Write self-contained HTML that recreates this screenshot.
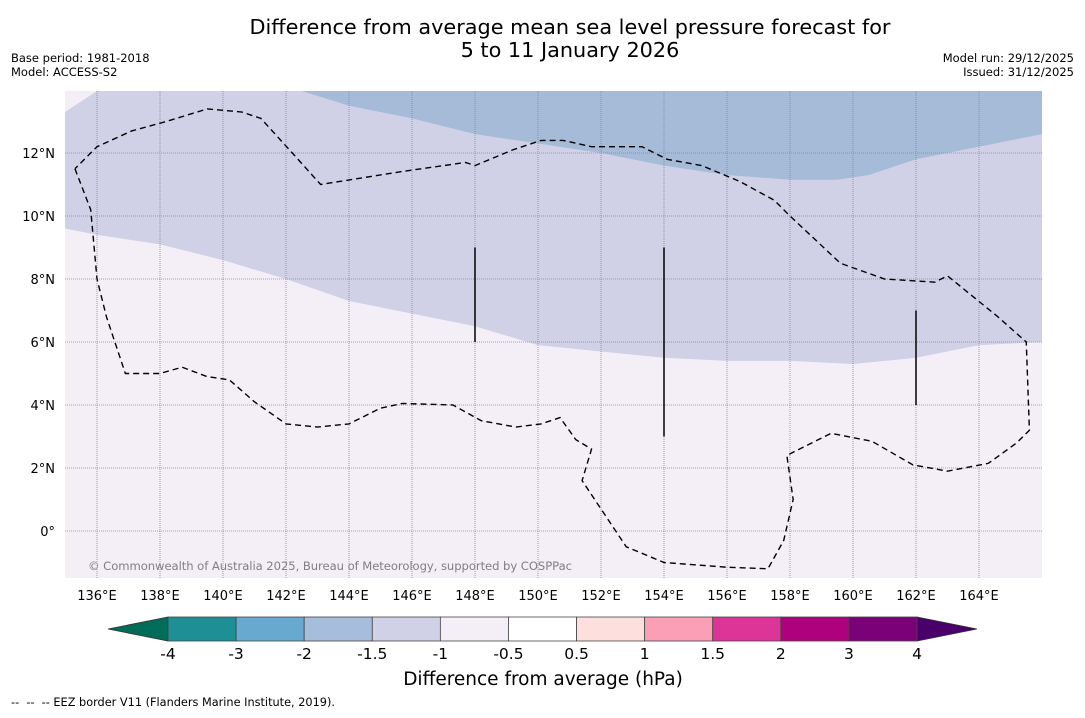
<!DOCTYPE html>
<html><head><meta charset="utf-8">
<style>
body{margin:0;background:#fff;font-family:"Liberation Sans","DejaVu Sans",sans-serif;}
svg text{font-family:"DejaVu Sans","Liberation Sans",sans-serif;}
</style></head>
<body>
<svg id="c" width="1085" height="713" xmlns="http://www.w3.org/2000/svg">
<rect width="1085" height="713" fill="#fff"/>
<text x="570" y="34" font-size="20.8" text-anchor="middle">Difference from average mean sea level pressure forecast for</text>
<text x="570" y="57" font-size="20.8" text-anchor="middle">5 to 11 January 2026</text>
<text x="11" y="62" font-size="11.5">Base period: 1981-2018</text>
<text x="11" y="76" font-size="11.5">Model: ACCESS-S2</text>
<text x="1074" y="62" font-size="11.5" text-anchor="end">Model run: 29/12/2025</text>
<text x="1074" y="76" font-size="11.5" text-anchor="end">Issued: 31/12/2025</text>
<g id="map"></g>
<g id="cbar"></g>
<text x="543" y="685" font-size="18.5" text-anchor="middle">Difference from average (hPa)</text>
<text x="11" y="706" font-size="11.3" xml:space="preserve" style="white-space:pre">--  --  -- EEZ border V11 (Flanders Marine Institute, 2019).</text>
</svg>
<script>
const lonTicks=[136,138,140,142,144,146,148,150,152,154,156,158,160,162,164];
const latTicks=[0,2,4,6,8,10,12];
const midLon=[135,136,138,140,142,144,146,148,150,152,154,156,158,160,162,164,166];
const midLat=[9.6,9.4,9.1,8.6,8.0,7.3,6.9,6.5,5.9,5.7,5.5,5.4,5.4,5.3,5.5,5.9,6.0];
const blueLon=[142.4,144,146,148,150,152,154,156,158,159.5,160.5,162,164,166];
const blueLat=[14,13.5,13.1,12.6,12.3,12.0,11.6,11.3,11.15,11.15,11.3,11.8,12.2,12.6];
const cbBounds=[-4,-3,-2,-1.5,-1,-0.5,0.5,1,1.5,2,3,4];
const cbColors=["#1f8f96","#67a9cf","#a6bddb","#d0d1e6","#f4eef6","#ffffff","#fde0dd","#fa9fb5","#dd3497","#ae017e","#7a0177"];
const eez=[[135.3,11.5],[135.8,10.2],[136,8],[136.3,6.8],[136.9,5],[138,5],[138.7,5.2],[139.5,4.9],[140.2,4.8],[141,4.1],[142,3.4],[143,3.3],[144,3.4],[145,3.9],[145.7,4.05],[147.3,4.0],[148.2,3.5],[149.3,3.3],[150.1,3.4],[150.7,3.6],[151.2,2.9],[151.7,2.6],[151.4,1.6],[152,0.7],[152.8,-0.5],[154,-1.0],[156,-1.15],[157.3,-1.2],[157.8,-0.3],[158.1,1.0],[157.9,2.4],[158.3,2.6],[159.3,3.1],[160.6,2.85],[161.9,2.1],[163,1.9],[164.3,2.15],[165.2,2.8],[165.6,3.2],[165.5,6.0],[164.6,6.8],[163,8.1],[162.6,7.9],[161,8.0],[159.6,8.5],[158,10.0],[157.5,10.5],[156.4,11.1],[155.2,11.6],[154.1,11.8],[153.3,12.2],[151.7,12.2],[150.8,12.4],[150.1,12.4],[149.2,12.1],[148,11.6],[147.7,11.7],[145.6,11.4],[143.1,11.0],[142.2,12.0],[141.2,13.1],[140.6,13.3],[139.5,13.4],[138.2,13.0],[137.1,12.7],[136,12.2],[135.3,11.5]];
const sticks=[[148,6,9],[154,3,9],[162,4,7]];
const NS="http://www.w3.org/2000/svg";
const X0=65,X1=1042,Y0=91,Y1=578;
const px=lon=>97+(lon-136)*31.5;
const py=lat=>531-lat*31.5;
function mk(t,a,p){const e=document.createElementNS(NS,t);for(const k in a)e.setAttribute(k,a[k]);p.appendChild(e);return e;}
const map=document.getElementById('map');
const defs=mk('defs',{},map);
const cp=mk('clipPath',{id:'clip'},defs);mk('rect',{x:X0,y:Y0,width:X1-X0,height:Y1-Y0},cp);
const g=mk('g',{'clip-path':'url(#clip)'},map);
let bg=mk('rect',{x:X0,y:Y0,width:X1-X0,height:Y1-Y0,fill:'#f4eef6'},g);

let d='M'+X0+','+Y0;
d+=` L${X0},${py(midLat[0])}`;
midLon.forEach((l,i)=>d+=` L${px(l)},${py(midLat[i])}`);
d+=` L${X1},${Y0} Z`;
let mid=mk('path',{d:d,fill:'#d0d1e6'},g);

let tl=mk('path',{d:`M${X0},${Y0} L${X0},${py(13.3)} L${px(136)},${Y0} Z`,fill:'#f4eef6'},g);

let bd='M'+px(blueLon[0])+','+Y0;
blueLon.forEach((l,i)=>bd+=` L${px(l)},${py(blueLat[i])}`);
bd+=` L${X1},${Y0} Z`;
let bl=mk('path',{d:bd,fill:'#a6bbd8'},g);

lonTicks.forEach(l=>{
 let ln=mk('line',{x1:px(l),x2:px(l),y1:Y0,y2:Y1,stroke:'#888','stroke-width':0.8,'stroke-dasharray':'1,1'},g);
 
 let t=mk('text',{x:px(l),y:600,'font-size':13,'text-anchor':'middle'},map);t.textContent=l+'°E';
 
});
latTicks.forEach(l=>{
 let ln=mk('line',{x1:X0,x2:X1,y1:py(l),y2:py(l),stroke:'#888','stroke-width':0.8,'stroke-dasharray':'1,1'},g);
 
 let t=mk('text',{x:55,y:py(l)+5,'font-size':13,'text-anchor':'end'},map);t.textContent=l===0?'0°':l+'°N';
 
});
let ed='';eez.forEach((p,i)=>ed+=(i?' L':'M')+px(p[0])+','+py(p[1]));
let ez=mk('path',{d:ed,fill:'none',stroke:'#000','stroke-width':1.4,'stroke-dasharray':'6,4'},g);

sticks.forEach(s=>{let l=mk('line',{x1:px(s[0]),x2:px(s[0]),y1:py(s[2]),y2:py(s[1]),stroke:'#000','stroke-width':1.5},g);
 });
let cr=mk('text',{x:88,y:570,'font-size':11.6,fill:'#808080',textLength:484},g);cr.textContent='© Commonwealth of Australia 2025, Bureau of Meteorology, supported by COSPPac';

const cb=document.getElementById('cbar');
const CX0=168,CX1=917,CY0=617,CY1=641,step=(CX1-CX0)/(cbBounds.length-1);
const cx=i=>CX0+i*step;
let la=mk('path',{d:`M${CX0},${CY0} L108,${(CY0+CY1)/2} L${CX0},${CY1} Z`,fill:'#016c59',stroke:'#333','stroke-width':0.8},cb);

let ra=mk('path',{d:`M${CX1},${CY0} L977,${(CY0+CY1)/2} L${CX1},${CY1} Z`,fill:'#49006a',stroke:'#333','stroke-width':0.8},cb);

cbColors.forEach((c,i)=>{let r=mk('rect',{x:cx(i),y:CY0,width:step,height:CY1-CY0,fill:c,stroke:'#444','stroke-width':0.8},cb);
 });
cbBounds.forEach((v,i)=>{let t=mk('text',{x:cx(i),y:659,'font-size':15.5,'text-anchor':'middle'},cb);t.textContent=v;
 });
</script>
</body></html>
